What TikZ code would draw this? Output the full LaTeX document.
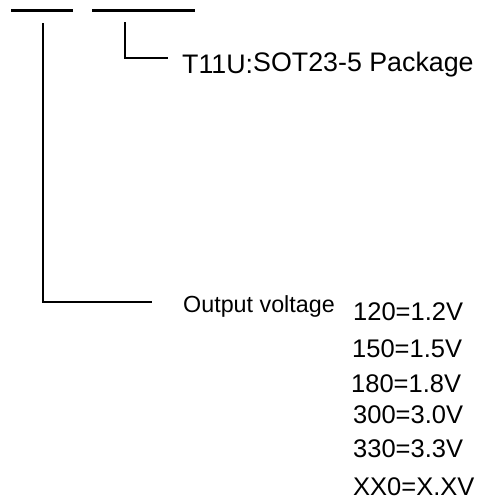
\documentclass[tikz,border=0pt]{standalone}
\usepackage{fontspec}
\setmainfont{Liberation Sans}
\usetikzlibrary{positioning}

\begin{document}
\begin{tikzpicture}[x=1pt,y=-1pt,
  lbl/.style={inner sep=0pt,anchor=base west},
  bar/.style={line width=3pt},
  lead/.style={line width=2pt}]
  \useasboundingbox (0,0) rectangle (481,499);

  \coordinate (F1a) at (11,10);
  \coordinate (F1b) at (73,10);
  \coordinate (F2a) at (92,10);
  \coordinate (F2b) at (195,10);
  \draw[bar] (F1a) -- (F1b);
  \draw[bar] (F2a) -- (F2b);

  \node[lbl,font=\fontsize{26.8}{30}\selectfont] (pkg)  at (182,73)  {T11U:\raisebox{2pt}{SOT23-5 Package}};
  \node[lbl,font=\fontsize{23.3}{26}\selectfont] (vout) at (183,312) {Output voltage};

  \node[lbl,font=\fontsize{25.5}{30}\selectfont] (v120) at (353,320) {120=1.2V};
  \node[lbl,font=\fontsize{25.5}{30}\selectfont] (v150) at (352,357) {150=1.5V};
  \node[lbl,font=\fontsize{25.5}{30}\selectfont] (v180) at (351,392) {180=1.8V};
  \node[lbl,font=\fontsize{25.5}{30}\selectfont] (v300) at (353,423) {300=3.0V};
  \node[lbl,font=\fontsize{25.5}{30}\selectfont] (v330) at (353,457) {330=3.3V};
  \node[lbl,font=\fontsize{25.5}{30}\selectfont] (vxx0) at (353,495) {XX0=X.XV};

  % leaders
  \coordinate (pkgtop) at (125,22);
  \coordinate (pkgend) at (168,58);
  \draw[lead] (pkgtop) |- (pkgend);

  \coordinate (vtop) at (43,23);
  \coordinate (vend) at (152,302);
  \draw[lead] (vtop) |- (vend);
\end{tikzpicture}
\end{document}
